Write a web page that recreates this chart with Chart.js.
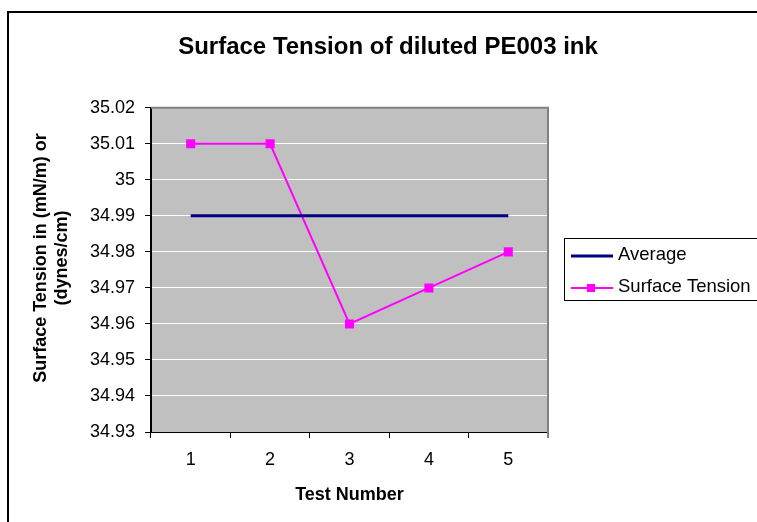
<!DOCTYPE html>
<html>
<head>
<meta charset="utf-8">
<script src="https://cdn.jsdelivr.net/npm/chart.js@4/dist/chart.umd.min.js"></script>
<style>
	html, body { margin:0; padding:0; background:#fff; }
	canvas { display:block; }
</style>
</head>
<body>
<canvas id="stChart" width="757" height="522"></canvas>
<script>
// data
let testNumbers = ['1', '2', '3', '4', '5'];
let surfaceTension = [35.01, 35.01, 34.96, 34.97, 34.98];
let average = [34.99, 34.99, 34.99, 34.99, 34.99];
let yMin = 34.93, yMax = 35.02, yStep = 0.01;
let yTitle = ['Surface Tension in (mN/m) or', '(dynes/cm)'];

const FONT = '"Liberation Sans", Arial, sans-serif';

// gray plot background, outer frame, y title and the boxed legend
let excelLook = {
	id: 'excelLook',
	beforeDraw(chart) {
		let ctx = chart.ctx, a = chart.chartArea;
		ctx.save();
		ctx.fillStyle = '#c0c0c0';
		ctx.fillRect(a.left, a.top, a.right - a.left, a.bottom - a.top);
		// outer chart border (runs off the right/bottom edge)
		ctx.strokeStyle = '#000';
		ctx.lineWidth = 2;
		ctx.beginPath();
		ctx.moveTo(8, 530);
		ctx.lineTo(8, 12);
		ctx.lineTo(770, 12);
		ctx.stroke();
		ctx.restore();
	},
	beforeDatasetsDraw(chart) {
		let ctx = chart.ctx, a = chart.chartArea;
		ctx.save();
		ctx.strokeStyle = '#808080';
		ctx.lineWidth = 2;
		ctx.beginPath();
		ctx.moveTo(a.left, a.top);
		ctx.lineTo(a.right, a.top);
		ctx.lineTo(a.right, a.bottom + 6);
		ctx.stroke();
		ctx.restore();
	},
	afterDraw(chart) {
		let ctx = chart.ctx;
		ctx.save();

		// y axis title, two lines, a bit above the plot's middle like Excel does
		ctx.font = 'bold 18px ' + FONT;
		ctx.fillStyle = '#000';
		ctx.textAlign = 'center';
		ctx.textBaseline = 'middle';
		ctx.translate(41, 258);
		ctx.rotate(-Math.PI / 2);
		yTitle.forEach((t, i) => ctx.fillText(t, 0, i * 21));
		ctx.setTransform(1, 0, 0, 1, 0, 0);

		// legend
		ctx.fillStyle = '#fff';
		ctx.fillRect(564, 238, 200, 63);
		ctx.strokeStyle = '#000';
		ctx.lineWidth = 1;
		ctx.strokeRect(564.5, 238.5, 200, 62);
		ctx.font = '18.5px ' + FONT;
		ctx.textAlign = 'left';
		ctx.textBaseline = 'middle';
		chart.data.datasets.forEach((ds, i) => {
			let y = 256 + i * 32;
			ctx.strokeStyle = ds.borderColor;
			ctx.lineWidth = ds.borderWidth;
			ctx.beginPath();
			ctx.moveTo(571, y);
			ctx.lineTo(613, y);
			ctx.stroke();
			if (ds.pointRadius > 0) {
				ctx.fillStyle = ds.pointBackgroundColor;
				ctx.fillRect(587, y - 4, 8, 8);
			}
			ctx.fillStyle = '#000';
			ctx.fillText(ds.label, 618, y - 1);
		});
		ctx.restore();
	}
};

let ctx = document.querySelector('#stChart').getContext('2d');
new Chart(ctx, {
	type: 'line',
	data: {
		labels: testNumbers,
		datasets: [
			{
				label: 'Average',
				data: average,
				borderColor: '#000080',
				borderWidth: 3,
				pointRadius: 0,
				pointHoverRadius: 0
			},
			{
				label: 'Surface Tension',
				data: surfaceTension,
				borderColor: '#ff00ff',
				backgroundColor: '#ff00ff',
				pointBackgroundColor: '#ff00ff',
				pointBorderColor: '#ff00ff',
				borderWidth: 2,
				pointStyle: 'rect',
				pointRadius: 6.4,
				pointBorderWidth: 0
			}
		]
	},
	options: {
		responsive: false,
		animation: false,
		layout: { padding: { left: 19, right: 0, top: 0, bottom: 0 } },
		plugins: {
			legend: { display: false },
			tooltip: { enabled: false },
			title: {
				display: true,
				text: 'Surface Tension of diluted PE003 ink',
				color: '#000',
				font: { family: FONT, size: 24, weight: 'bold' },
				padding: { top: 33, bottom: 46 }
			}
		},
		scales: {
			x: {
				offset: true,
				grid: { offset: true, drawOnChartArea: false, drawTicks: true, tickLength: 6, tickColor: '#000' },
				border: { color: '#000', width: 1 },
				ticks: { color: '#000', padding: 11, font: { family: FONT, size: 18 } },
				title: {
					display: true,
					text: 'Test Number',
					color: '#000',
					font: { family: FONT, size: 18, weight: 'bold' },
					padding: { top: 0, bottom: 16 }
				},
				afterFit(s) { s.height = 90; }
			},
			y: {
				min: yMin,
				max: yMax,
				grid: {
					color: c => (c.index === 0 ? '#000' : '#fff'),
					lineWidth: 1,
					tickLength: 6,
					tickColor: '#000'
				},
				border: { color: '#000', width: 2 },
				ticks: {
					stepSize: yStep,
					color: '#000',
					padding: 10,
					font: { family: FONT, size: 18 },
					callback: v => String(parseFloat(v.toFixed(2)))
				},
				afterFit(s) { s.width = 132; }
			},
			// empty right-hand box that keeps room for the legend
			yRight: {
				position: 'right',
				display: true,
				grid: { display: false },
				border: { display: false },
				ticks: { display: false },
				afterFit(s) { s.width = 209; }
			}
		}
	},
	plugins: [excelLook]
});
</script>
</body>
</html>
